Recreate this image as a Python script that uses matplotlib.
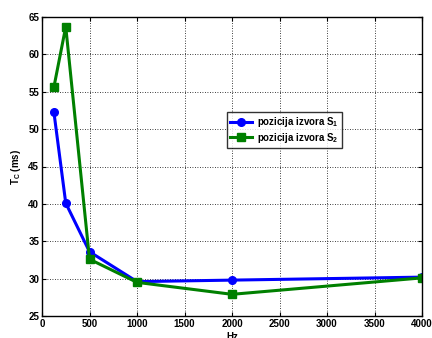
import matplotlib
matplotlib.use("Agg")
import matplotlib.pyplot as plt

freq = [125, 250, 500, 1000, 2000, 4000]
s1 = [52.3, 40.1, 33.6, 29.6, 29.8, 30.2]
s2 = [55.6, 63.7, 32.6, 29.5, 27.9, 30.1]
labels = ["pozicija izvora S$_1$", "pozicija izvora S$_2$"]
xticks = [0, 500, 1000, 1500, 2000, 2500, 3000, 3500, 4000]
yticks = [25, 30, 35, 40, 45, 50, 55, 60, 65]

plt.rcParams['font.family'] = ['Liberation Sans', 'DejaVu Sans']
plt.rcParams['font.weight'] = 'bold'
plt.rcParams['mathtext.fontset'] = 'custom'
plt.rcParams['mathtext.rm'] = 'Liberation Sans:bold'
plt.rcParams['mathtext.it'] = 'Liberation Sans:bold'

fig = plt.figure(figsize=(4.32, 3.38), dpi=100)
ax = fig.add_axes([42/432, 1-316/338, 380/432, 299/338])

ax.plot(freq, s1, color='#0000ff', lw=2.2, marker='o', ms=5.5, label=labels[0])
ax.plot(freq, s2, color='#008000', lw=2.2, marker='s', ms=5.5, label=labels[1])

ax.set_xlim(0, 4000)
ax.set_ylim(25, 65)
ax.set_xticks(xticks)
ax.set_yticks(yticks)
ax.tick_params(direction='in', labelsize=7, length=3, width=0.8, top=True, right=True, pad=2)
for lab in ax.get_xticklabels() + ax.get_yticklabels():
    lab.set_fontweight('bold')
ax.grid(True, color='black', linestyle=(0, (1, 2)), linewidth=0.6)
for sp in ax.spines.values():
    sp.set_linewidth(1.0)

ax.set_xlabel("Hz", fontsize=7, fontweight='bold', labelpad=2)
ax.set_ylabel("T$_C$ (ms)", fontsize=7, fontweight='bold', labelpad=4)

leg = ax.legend(loc='upper left', bbox_to_anchor=((227-42)/380, (316-112)/299),
                fontsize=7, frameon=True, fancybox=False, edgecolor='black',
                borderpad=0.35, handlelength=2.2, labelspacing=0.15, borderaxespad=0,
                handletextpad=0.5)
leg.get_frame().set_linewidth(1.0)
for t in leg.get_texts():
    t.set_fontweight('bold')

fig.savefig("out.png", dpi=100)
